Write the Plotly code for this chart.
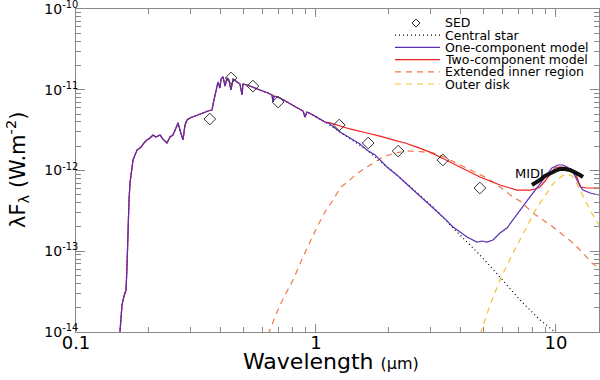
import numpy as np
import plotly.graph_objects as go

# photospheric spectrum, shared by every model below ~1.1 micron
star_wl = [0.151, 0.1525, 0.1555, 0.1585, 0.1616, 0.1631, 0.1647, 0.1663, 0.1679, 0.1728,
           0.1796, 0.1866, 0.192, 0.1976, 0.2034, 0.2093, 0.2154, 0.2239, 0.2304, 0.2394,
           0.2464, 0.2535, 0.261, 0.2661, 0.2712, 0.2792, 0.2846, 0.2901, 0.2985, 0.3072,
           0.3223, 0.3382, 0.3548, 0.3687, 0.3758, 0.3831, 0.3905, 0.3981, 0.402, 0.4098,
           0.4178, 0.4259, 0.4341, 0.4425, 0.4511, 0.4687, 0.4823, 0.4917, 0.4964, 0.5158,
           0.5464, 0.5843, 0.631, 0.6556, 0.6619, 0.6683, 0.7079, 0.757, 0.8019, 0.8577,
           0.883, 0.8999, 0.9173, 0.9716, 1.039, 1.09]
star_flux = [6.9e-15, 1.0e-14, 2.16e-14, 2.79e-14, 3.31e-14, 6.38e-14, 2.0e-13, 4.31e-13, 7.0e-13, 1.35e-12,
             1.79e-12, 1.95e-12, 2.19e-12, 2.39e-12, 2.53e-12, 2.75e-12, 2.6e-12, 2.75e-12, 2.45e-12, 2.19e-12,
             2.6e-12, 2.75e-12, 3.36e-12, 3.88e-12, 3.17e-12, 2.39e-12, 3.66e-12, 4.22e-12, 4.47e-12, 4.6e-12,
             4.87e-12, 5.15e-12, 5.45e-12, 5.61e-12, 7.47e-12, 9.93e-12, 1.247e-11, 1.051e-11, 1.359e-11, 1.439e-11,
             1.113e-11, 1.398e-11, 1.32e-11, 9.93e-12, 1.359e-11, 1.247e-11, 1.178e-11, 8.61e-12, 1.178e-11, 1.145e-11,
             1.082e-11, 9.93e-12, 9.115e-12, 8.61e-12, 7.05e-12, 8.37e-12, 7.9e-12, 7.05e-12, 6.47e-12, 5.77e-12,
             5.45e-12, 4.6e-12, 5.3e-12, 4.87e-12, 4.34e-12, 3.99e-12]

# central star beyond the near-IR
star_tail_wl = [1.259, 1.631, 2.197, 3.072, 3.869, 4.823, 5.843, 7.079, 8.577, 10.0, 10.39]
star_tail_flux = [3.0e-12, 1.79e-12, 8.55e-13, 3.53e-13, 1.73e-13, 8.99e-14, 4.8e-14, 2.49e-14, 1.41e-14, 1.0e-14, 8.92e-15]

# one-component model beyond the near-IR
one_wl = [1.144, 1.259, 1.386, 1.525, 1.631, 1.762, 1.976, 2.197, 2.464, 2.712,
          3.072, 3.382, 3.723, 3.981, 4.259, 4.687, 4.917, 5.158, 5.464, 5.843,
          6.248, 6.619, 7.079, 7.792, 8.577, 9.173, 9.624, 10.19, 10.70, 11.11,
          11.77, 12.23, 12.59, 12.96, 13.86, 15.11]
one_flux = [3.77e-12, 3.0e-12, 2.53e-12, 2.13e-12, 1.79e-12, 1.56e-12, 1.105e-12, 8.55e-13, 6.25e-13, 4.83e-13,
            3.53e-13, 2.66e-13, 2.0e-13, 1.73e-13, 1.5e-13, 1.3e-13, 1.34e-13, 1.3e-13, 1.38e-13, 1.68e-13,
            1.94e-13, 2.44e-13, 3.24e-13, 4.7e-13, 6.81e-13, 9.05e-13, 1.074e-12, 1.17e-12, 1.17e-12, 1.105e-12,
            9.58e-13, 7.63e-13, 6.43e-13, 5.73e-13, 5.26e-13, 4.97e-13]

# two-component model beyond the near-IR
two_wl = [1.144, 1.259, 1.386, 1.631, 1.848, 2.093, 2.349, 2.635, 2.985, 3.285,
          3.617, 3.981, 4.383, 4.823, 5.309, 5.843, 6.431, 6.879, 7.426, 7.792,
          8.175, 8.577, 8.999, 9.261, 9.624, 9.904, 10.29, 10.70, 11.22, 11.66,
          12.0, 12.23, 12.47, 12.71, 13.47, 15.11]
two_flux = [3.88e-12, 3.56e-12, 3.27e-12, 2.91e-12, 2.67e-12, 2.39e-12, 2.19e-12, 1.95e-12, 1.69e-12, 1.47e-12,
            1.27e-12, 1.105e-12, 9.58e-13, 8.31e-13, 7.41e-13, 6.61e-13, 6.07e-13, 5.73e-13, 5.73e-13, 5.73e-13,
            5.9e-13, 6.25e-13, 7.41e-13, 8.31e-13, 9.86e-13, 1.074e-12, 1.105e-12, 1.105e-12, 1.074e-12, 1.014e-12,
            9.31e-13, 8.31e-13, 7.0e-13, 6.25e-13, 6.07e-13, 6.07e-13]

# extended inner region
inner_wl = [0.613, 0.637, 0.7079, 0.8019, 0.883, 1.010, 1.09, 1.178, 1.259, 1.386,
            1.496, 1.631, 1.762, 1.902, 2.073, 2.239, 2.417, 2.635, 2.846, 3.072,
            3.35, 3.617, 3.905, 4.259, 4.687, 5.158, 5.843, 6.248, 6.619, 7.079,
            8.019, 8.83, 9.716, 10.70, 11.77, 12.96, 14.13, 15.11]
inner_flux = [6.9e-15, 1.0e-14, 2.16e-14, 4.41e-14, 8.49e-14, 2.0e-13, 3.06e-13, 4.31e-13, 6.07e-13, 7.63e-13,
              9.31e-13, 1.105e-12, 1.27e-12, 1.47e-12, 1.6e-12, 1.69e-12, 1.74e-12, 1.74e-12, 1.69e-12, 1.65e-12,
              1.51e-12, 1.35e-12, 1.2e-12, 1.074e-12, 9.31e-13, 8.07e-13, 6.25e-13, 5.42e-13, 4.7e-13, 4.19e-13,
              2.98e-13, 2.44e-13, 2.0e-13, 1.59e-13, 1.265e-13, 9.51e-14, 7.15e-14, 6.2e-14]

# outer disk
outer_wl = [4.732, 4.87, 5.309, 5.843, 6.619, 7.57, 8.331, 9.173, 9.624, 10.10,
            10.59, 11.11, 11.66, 12.0, 12.59, 13.21, 13.86, 15.11]
outer_flux = [6.9e-15, 1.0e-14, 2.16e-14, 4.41e-14, 9.51e-14, 2.0e-13, 3.5e-13, 5.26e-13, 6.61e-13, 7.63e-13,
              8.55e-13, 9.05e-13, 8.55e-13, 7.63e-13, 5.73e-13, 4.31e-13, 3.24e-13, 2.11e-13]

# photometry (U B V R J H K L M)
sed_wl = [0.361, 0.443, 0.546, 0.695, 1.25, 1.65, 2.20, 3.38, 4.82]
sed_flux = [4.34e-12, 1.40e-11, 1.11e-11, 7.05e-12, 3.66e-12, 2.19e-12, 1.74e-12, 1.35e-12, 6.07e-13]

# MIDI N-band spectrum
midi_wl = [7.94, 8.254, 8.577, 8.999, 9.441, 9.904, 10.39, 10.90, 11.44, 12.0, 12.59, 12.96]
midi_flux = [6.61e-13, 7.0e-13, 7.63e-13, 8.55e-13, 9.31e-13, 9.86e-13, 1.044e-12, 1.044e-12, 1.014e-12,
             9.58e-13, 8.8e-13, 8.31e-13]

PURPLE = "#5a2db5"
RED = "#f02020"
ORANGE = "#ee7a4a"
YELLOW = "#f2c230"
FONT = "DejaVu Sans"

fig = go.Figure()

fig.add_trace(go.Scatter(x=star_wl + star_tail_wl, y=star_flux + star_tail_flux, mode="lines",
                         line=dict(color="black", width=1.2, dash="1px,3px"), name="Central star"))
fig.add_trace(go.Scatter(x=inner_wl, y=inner_flux, mode="lines",
                         line=dict(color=ORANGE, width=1.2, dash="6px,5px"), name="Extended inner region"))
fig.add_trace(go.Scatter(x=outer_wl, y=outer_flux, mode="lines",
                         line=dict(color=YELLOW, width=1.2, dash="6px,5px"), name="Outer disk"))
fig.add_trace(go.Scatter(x=star_wl + two_wl, y=star_flux + two_flux, mode="lines",
                         line=dict(color=RED, width=1.2), name="Two-component model"))
fig.add_trace(go.Scatter(x=star_wl + one_wl, y=star_flux + one_flux, mode="lines",
                         line=dict(color=PURPLE, width=1.2), name="One-component model"))
fig.add_trace(go.Scatter(x=midi_wl, y=midi_flux, mode="lines",
                         line=dict(color="#111111", width=4), name="MIDI"))
fig.add_trace(go.Scatter(x=sed_wl, y=sed_flux, mode="markers",
                         marker=dict(symbol="diamond-open", size=9, color="#333333", line=dict(width=1)),
                         name="SED"))

# MIDI label
fig.add_annotation(x=np.log10(7.79), y=np.log10(9.31e-13), text="MIDI", showarrow=False,
                   xanchor="center", yanchor="middle",
                   font=dict(family=FONT, size=13, color="black"))

# helpers: screen pixel -> paper coordinates (plot area spans x 76..599, y 9..332)
def px(x):
    return (x - 76) / 523

def py(y):
    return (332 - y) / 323

# hand-drawn legend (tight line spacing like the original)
legend_rows = [
    ("SED", None, None),
    ("Central star", "black", "1px,3px"),
    ("One-component model", PURPLE, "solid"),
    ("Two-component model", RED, "solid"),
    ("Extended inner region", ORANGE, "6px,5px"),
    ("Outer disk", YELLOW, "6px,5px"),
]
for i, (label, col, dash) in enumerate(legend_rows):
    yy = py(23 + 12.2 * i)
    fig.add_annotation(x=px(443), y=yy, xref="paper", yref="paper", text=label, showarrow=False,
                       xanchor="left", yanchor="middle", font=dict(family=FONT, size=12.5, color="black"))
    if col is None:
        fig.add_shape(type="path", xref="paper", yref="paper", xsizemode="pixel", ysizemode="pixel",
                      xanchor=px(416), yanchor=yy, path="M -4 0 L 0 4 L 4 0 L 0 -4 Z",
                      line=dict(color="#333333", width=1))
    else:
        fig.add_shape(type="line", xref="paper", yref="paper", x0=px(395), x1=px(440), y0=yy, y1=yy,
                      line=dict(color=col, width=1.2, dash=dash))

# axis titles
fig.add_annotation(x=px(331), y=py(361), xref="paper", yref="paper", showarrow=False,
                   xanchor="center", yanchor="middle",
                   text="Wavelength <span style='font-size:16px'>(μm)</span>",
                   font=dict(family=FONT, size=22, color="black"))
fig.add_annotation(x=px(17), y=py(170), xref="paper", yref="paper", showarrow=False, textangle=-90,
                   xanchor="center", yanchor="middle",
                   text="λF<sub>λ</sub> (W.m<sup>-2</sup>)",
                   font=dict(family=FONT, size=21, color="black"))

x_ticks = [0.1, 1, 10]
x_labels = ["0.1", "1", "10"]
y_ticks = [1e-14, 1e-13, 1e-12, 1e-11, 1e-10]
y_labels = ["10<sup>-14</sup>", "10<sup>-13</sup>", "10<sup>-12</sup>", "10<sup>-11</sup>", "10<sup>-10</sup>"]

x_minor = [m * 10.0 ** e for e in (-1, 0) for m in range(2, 10)]
y_minor = [m * 10.0 ** e for e in range(-14, -10) for m in range(2, 10)]

axis_style = dict(showline=True, linecolor="#888888", linewidth=1, mirror="ticks", ticks="inside",
                  tickcolor="#888888", showgrid=False, zeroline=False, automargin=False,
                  ticklabeloverflow="allow")

fig.update_xaxes(type="log", range=[-1, np.log10(15.11)], tickmode="array", tickvals=x_ticks,
                 ticktext=x_labels, ticklen=8, tickfont=dict(family=FONT, size=18, color="black"),
                 ticklabelstandoff=-6,
                 minor=dict(tickmode="array", tickvals=x_minor, ticks="inside", ticklen=5, tickcolor="#888888"),
                 **axis_style)
fig.update_yaxes(type="log", range=[-14, -10], tickmode="array", tickvals=y_ticks,
                 ticktext=y_labels, ticklen=9, tickfont=dict(family=FONT, size=14, color="black"),
                 ticklabelstandoff=-6,
                 minor=dict(tickmode="array", tickvals=y_minor, ticks="inside", ticklen=5, tickcolor="#888888"),
                 **axis_style)

fig.update_layout(
    width=600, height=380,
    margin=dict(l=76, r=1, t=9, b=48),
    plot_bgcolor="white", paper_bgcolor="white",
    showlegend=False,
    font=dict(family=FONT, color="black"),
)

# drop the default 8px page margin so the figure sits at the window's top-left corner
fig.write_html("out.html", config={"displayModeBar": False},
               post_script="document.body.style.margin = '0px';")
